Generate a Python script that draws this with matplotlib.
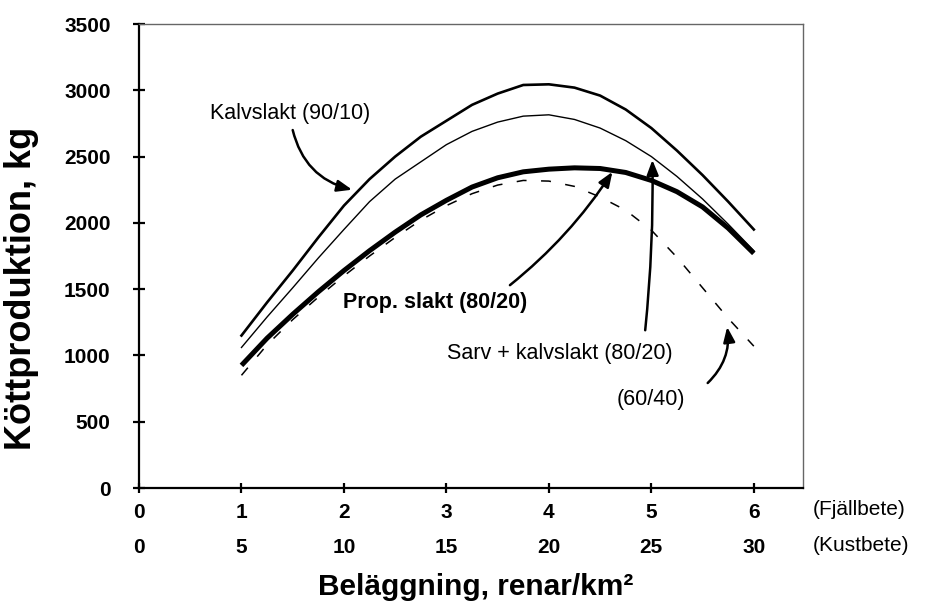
import matplotlib
matplotlib.use("Agg")
import matplotlib.pyplot as plt

plt.rcParams['font.family'] = ['Liberation Sans', 'DejaVu Sans']

# Beläggning (renar/km2) på fjällbete; kustbete = 5 x fjällbete
belaggning = [1.0, 1.25, 1.5, 1.75, 2.0, 2.25, 2.5, 2.75, 3.0, 3.25, 3.5,
              3.75, 4.0, 4.25, 4.5, 4.75, 5.0, 5.25, 5.5, 5.75, 6.0]

# Köttproduktion, kg
kalvslakt_90_10 = [1150, 1400, 1640, 1890, 2130, 2330, 2500, 2650, 2770, 2890, 2975,
                   3040, 3045, 3020, 2960, 2855, 2715, 2545, 2360, 2160, 1950]
sarv_kalvslakt_80_20 = [1060, 1290, 1510, 1735, 1950, 2160, 2330, 2460, 2590, 2690, 2760,
                        2805, 2815, 2780, 2715, 2620, 2500, 2350, 2180, 1990, 1790]
prop_slakt_80_20 = [925, 1130, 1310, 1480, 1640, 1790, 1930, 2060, 2170, 2270, 2340,
                    2385, 2405, 2415, 2410, 2380, 2320, 2235, 2120, 1960, 1770]
prop_slakt_60_40 = [850, 1080, 1270, 1440, 1600, 1750, 1890, 2020, 2130, 2220, 2285,
                    2320, 2315, 2275, 2195, 2095, 1945, 1740, 1510, 1280, 1070]

fjall_ticks = [0, 1, 2, 3, 4, 5, 6]
kust_ticks = [0, 5, 10, 15, 20, 25, 30]
y_ticks = [0, 500, 1000, 1500, 2000, 2500, 3000, 3500]

fig = plt.figure(figsize=(9.27, 6.04), dpi=100)
ax = fig.add_axes([139 / 927, 116 / 604, (803 - 139) / 927, (488 - 24) / 604])
ax.set_xlim(0, 6.48)
ax.set_ylim(0, 3500)

# Curves
ax.plot(belaggning, prop_slakt_60_40, color='black', lw=1.1,
        linestyle=(0, (6.5, 9.5)), zorder=2)
ax.plot(belaggning, prop_slakt_80_20, color='black', lw=3.6,
        solid_capstyle='butt', solid_joinstyle='round', zorder=3)
ax.plot(belaggning, sarv_kalvslakt_80_20, color='black', lw=1.0,
        solid_joinstyle='round', zorder=3)
ax.plot(belaggning, kalvslakt_90_10, color='black', lw=1.9,
        solid_joinstyle='round', zorder=3)

# Spines
for side in ('top', 'right'):
    ax.spines[side].set_linestyle((0, (1, 1)))
    ax.spines[side].set_linewidth(1.0)
    ax.spines[side].set_color('0.4')
for side in ('left', 'bottom'):
    ax.spines[side].set_linewidth(1.6)
    ax.spines[side].set_color('black')

# Ticks
ax.set_yticks(y_ticks)
ax.set_yticklabels([str(v) for v in y_ticks], fontsize=15, fontweight='bold')
ax.set_xticks(fjall_ticks)
ax.set_xticklabels([str(v) for v in fjall_ticks], fontsize=15, fontweight='bold')
ax.tick_params(axis='y', direction='inout', length=9, width=1.6, pad=16)
ax.tick_params(axis='x', direction='inout', length=7, width=1.6, pad=7)

sec = ax.secondary_xaxis('bottom', functions=(lambda x: x * 5, lambda x: x / 5))
sec.set_xticks(kust_ticks)
sec.set_xticklabels([str(v) for v in kust_ticks], fontsize=15, fontweight='bold')
sec.spines['bottom'].set_visible(False)
sec.tick_params(axis='x', length=0, pad=36)

# Row captions for the two x scales
ax.text(6.58, -160, '(Fjällbete)', fontsize=15, ha='left', va='center', clip_on=False)
ax.text(6.58, -435, '(Kustbete)', fontsize=15, ha='left', va='center', clip_on=False)

# Axis titles
fig.text(476 / 927, 1 - 587 / 604, 'Beläggning, renar/km²', fontsize=21.5,
         fontweight='bold', ha='center', va='center')
fig.text(22 / 927, 1 - 288 / 604, 'Köttproduktion, kg', fontsize=26,
         fontweight='bold', ha='center', va='center', rotation=90)

# Curve labels with arrows
arrow = dict(arrowstyle='-|>,head_length=0.9,head_width=0.35', lw=1.8,
             color='black', shrinkA=0, shrinkB=0)

ax.text(1.47, 2828, 'Kalvslakt (90/10)', fontsize=15.5, ha='center', va='center')
ax.annotate('', xy=(2.08, 2250), xytext=(1.50, 2700),
            arrowprops=dict(arrow, connectionstyle='arc3,rad=0.3'))

ax.text(2.89, 1403, 'Prop. slakt (80/20)', fontsize=15.5, fontweight='bold',
        ha='center', va='center')
ax.annotate('', xy=(4.62, 2385), xytext=(3.62, 1530),
            arrowprops=dict(arrow, connectionstyle='arc3,rad=0.08'))

ax.text(4.11, 1018, 'Sarv + kalvslakt (80/20)', fontsize=15.5, ha='center', va='center')
ax.annotate('', xy=(5.01, 2475), xytext=(4.94, 1190),
            arrowprops=dict(arrow, connectionstyle='arc3,rad=0.03'))

ax.text(5.0, 664, '(60/40)', fontsize=15.5, ha='center', va='center')
ax.annotate('', xy=(5.74, 1215), xytext=(5.55, 792),
            arrowprops=dict(arrow, connectionstyle='arc3,rad=0.25'))

fig.savefig('out.png', dpi=100)
